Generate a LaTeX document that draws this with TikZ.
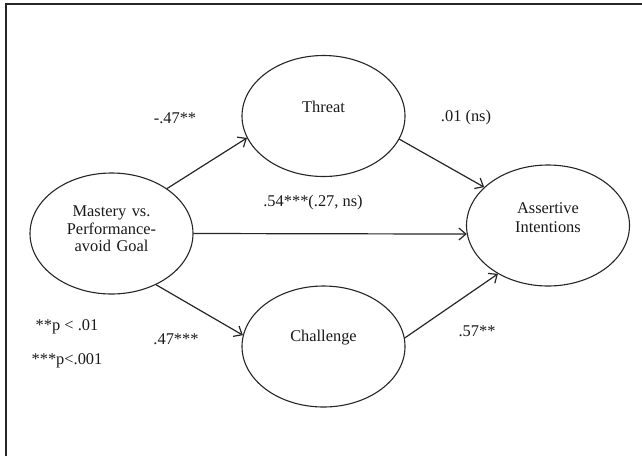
\documentclass[tikz,border=0pt]{standalone}
\usepackage{fontspec}
\setmainfont{Liberation Serif}
\usetikzlibrary{shapes.geometric,arrows.meta}
\tikzset{
  blob/.style={draw=black!85,line width=1.1pt,ellipse,minimum width=163pt,minimum height=121pt,inner sep=0pt},
  txt/.style={font=\fontsize{16.4}{19}\selectfont,text=black!90,align=center,inner sep=0pt},
  conn/.style={draw=black!85,line width=1.2pt,-{Straight Barb[length=7pt,width=12pt,line width=1.2pt]}}
}
\begin{document}
\begin{tikzpicture}[x=1pt,y=-1pt]
\useasboundingbox (0,0) rectangle (642,456);
\draw[black!85,line width=1.3pt] (6,456) -- (6,4) -- (642,4);
% ellipses
\node[blob] (mastery) at (111.5,233.5) {};
\node[blob] (threat) at (323.5,116) {};
\node[blob] (challenge) at (323.5,346.5) {};
\node[blob] (assert) at (548,225.5) {};
% ellipse texts
\node[txt,text width=150pt] (tm) at ([yshift=4.5pt]mastery.center) {Mastery vs.\\[-1.5pt]Performance-\\[-1.5pt]avoid Goal};
\node[txt] (tt) at ([yshift=9pt]threat.center) {Threat};
\node[txt] (tc) at ([yshift=8.5pt]challenge.center) {Challenge};
\node[txt,text width=150pt] (ta) at ([yshift=8pt]assert.center) {Assertive\\[-0.5pt]Intentions};
% connectors
\draw[conn] (mastery.39.9) -- (threat.196.7);
\draw[conn] (mastery.0) -- (assert.186.7);
\draw[conn] (mastery.-49.7) -- (challenge.172.7);
\draw[conn] (threat.-17.2) -- (assert.149.4);
\draw[conn] (challenge.6.6) -- (assert.224.7);
% labels
\node[txt] (l1) at (175,118) {-.47**};
\node[txt] (l2) at (466,118) {.01 (ns)};
\node[txt] (l3) at (313,203) {.54***(.27, ns)};
\node[txt] (l4) at (176,339) {.47***};
\node[txt] (l5) at (477,331) {.57**};
\node[txt] (n1) at (67,327) {**p < .01};
\node[txt] (n2) at (67,361) {***p<.001};
\end{tikzpicture}
\end{document}
